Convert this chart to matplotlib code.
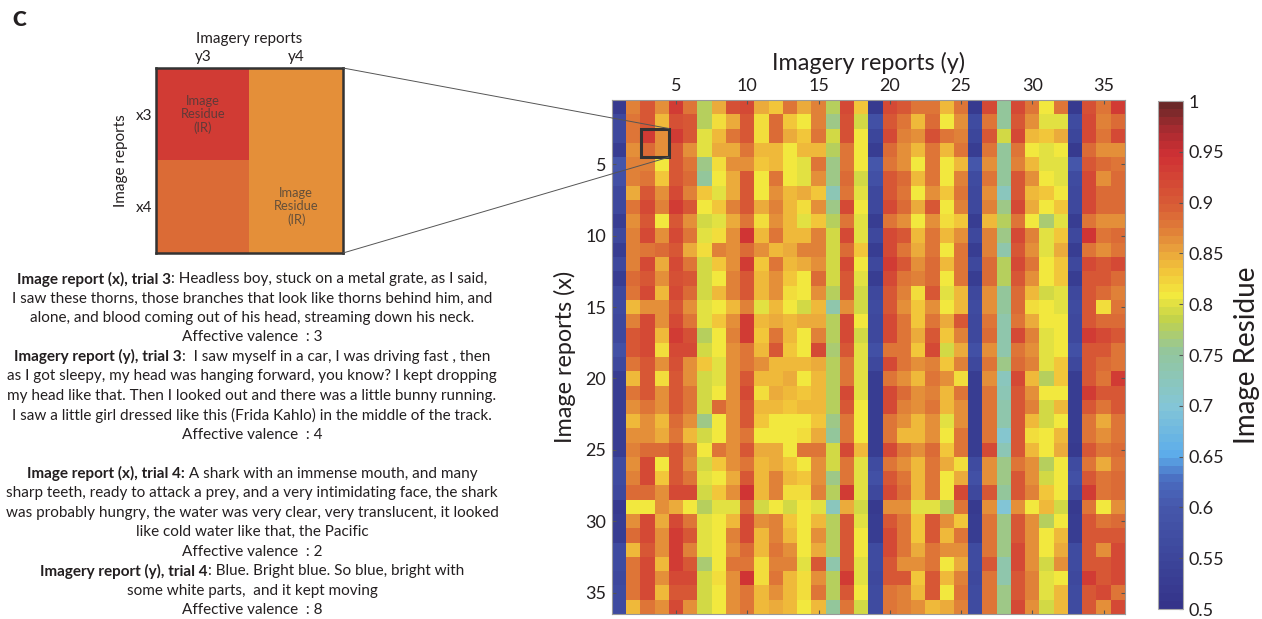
import numpy as np
import matplotlib
matplotlib.use("Agg")
import matplotlib.pyplot as plt
from matplotlib.colors import LinearSegmentedColormap, Normalize
from matplotlib.patches import Rectangle, ConnectionPatch

plt.rcParams['font.family'] = ['Lato', 'DejaVu Sans']

# Image residue between image reports (rows, x) and imagery reports (cols, y), in percent
residue_pct = [
    [52,87,90,86,93,88,78,85,91,92,85,83,88,85,87,78,92,83, 52,92,90,88,88,84,88,52,92,75,92,88,81,88,52,91,88,93],
    [56,88,90,84,91,90,78,82,85,90,82,89,83,81,87,76,91,79, 58,90,88,84,89,81,86,57,88,75,90,86,80,80,57,92,87,89],
    [56,88,93,86,93,90,80,84,88,90,82,89,85,83,88,79,91,81, 55,92,87,86,91,88,87,55,90,79,92,84,83,85,55,92,88,92],
    [53,86,89,86,90,86,80,85,85,88,84,84,81,84,84,78,88,81, 53,89,86,84,88,84,88,53,88,75,88,81,80,81,52,89,86,86],
    [60,87,87,81,90,88,76,82,86,86,83,84,81,80,88,76,88,81, 60,88,86,81,88,81,84,60,86,75,87,84,80,80,60,90,89,88],
    [58,87,88,83,90,89,75,81,85,90,81,88,81,80,86,76,89,79, 58,90,89,84,88,81,87,57,88,75,90,86,81,80,57,92,86,89],
    [56,85,90,86,92,87,83,80,85,90,81,86,84,85,83,73,88,80, 56,90,88,81,86,83,88,56,86,72,90,84,83,81,56,92,89,89],
    [56,88,92,87,93,90,81,83,87,90,85,87,84,82,86,76,92,81, 56,92,89,85,90,81,87,56,87,76,92,85,81,83,56,92,89,89],
    [53,86,90,81,90,86,79,80,85,88,82,86,84,80,83,78,88,80, 53,88,86,81,86,82,83,53,84,78,88,81,77,80,53,88,86,86],
    [56,87,92,86,92,88,80,82,86,94,84,88,84,84,87,79,92,80, 56,92,90,84,88,84,86,56,87,76,92,87,80,83,56,94,88,89],
    [53,87,88,89,90,85,82,87,86,89,86,84,85,87,87,79,89,83, 53,92,88,85,88,81,88,53,87,74,90,86,80,85,53,88,86,88],
    [56,87,92,85,92,88,79,83,86,93,83,88,84,85,86,79,92,81, 56,93,90,86,89,84,88,56,89,78,92,88,81,83,56,92,90,92],
    [53,89,90,86,91,90,79,81,87,90,84,86,83,81,89,79,90,80, 53,92,88,87,89,81,88,53,89,78,90,86,81,83,53,90,90,89],
    [56,88,92,84,92,89,79,84,87,90,84,86,82,81,86,78,90,79, 56,90,87,82,90,80,84,56,86,75,89,84,79,80,56,90,89,87],
    [57,84,86,86,90,86,80,81,84,87,80,84,81,79,84,74,86,79, 57,90,86,83,86,81,84,57,86,75,89,82,81,80,57,90,82,88],
    [56,87,92,86,92,88,80,83,86,93,84,85,84,85,85,78,92,81, 56,92,88,83,88,85,90,56,88,74,88,85,81,81,56,90,89,89],
    [56,90,92,84,93,91,78,81,87,93,83,88,84,81,87,78,92,79, 56,92,88,85,90,83,87,56,89,74,92,87,80,81,56,93,92,90],
    [58,90,92,82,92,92,79,81,86,88,84,90,83,81,92,77,90,80, 58,88,88,83,92,79,85,58,86,74,88,86,80,81,58,90,90,88],
    [56,88,90,86,91,86,83,80,86,88,86,84,84,84,85,78,88,80, 56,92,88,86,87,83,87,56,88,76,89,87,80,83,56,90,89,88],
    [53,84,90,82,90,86,79,80,86,90,84,84,85,81,84,78,88,80, 53,88,86,84,88,86,82,53,86,72,92,84,78,83,53,90,88,93],
    [53,88,90,86,90,88,79,81,86,92,82,85,84,83,84,78,92,80, 53,92,89,86,87,84,88,53,88,73,90,86,81,81,53,93,90,90],
    [53,86,88,86,90,88,79,89,86,90,84,84,83,84,84,78,90,81, 53,92,87,86,88,84,86,53,88,74,90,87,79,84,53,90,88,90],
    [53,84,86,84,89,86,76,81,86,90,83,81,81,81,83,76,88,81, 53,88,86,84,86,80,86,53,88,74,90,84,79,81,53,88,85,88],
    [53,86,86,85,88,84,79,81,86,88,81,81,81,82,85,75,88,81, 53,88,84,84,86,81,88,53,88,71,90,82,81,84,53,88,86,88],
    [53,87,89,89,90,87,81,88,86,90,85,85,81,88,88,79,92,84, 53,92,88,86,89,83,88,53,92,73,90,84,81,85,52,90,88,89],
    [57,86,92,81,90,86,79,83,86,88,84,85,83,81,86,79,88,80, 57,88,86,84,88,85,82,57,86,76,88,86,78,81,57,88,85,88],
    [57,87,92,83,90,88,80,81,85,90,84,87,84,83,86,76,88,80, 58,90,88,84,88,81,85,58,86,76,90,86,79,81,58,90,88,89],
    [56,89,89,86,92,92,79,83,86,94,84,87,82,82,87,78,93,80, 56,92,89,84,88,81,92,56,90,75,90,87,83,81,56,93,88,89],
    [52,81,81,86,85,81,78,80,80,89,79,81,79,81,80,72,85,79, 52,86,86,80,80,78,88,52,86,70,86,81,84,79,52,88,81,86],
    [53,86,92,85,92,88,80,81,84,92,86,87,83,81,84,78,90,80, 53,90,88,83,90,86,83,53,88,76,90,86,78,81,53,90,88,89],
    [53,89,92,86,93,90,80,81,87,92,84,87,84,81,86,78,90,81, 53,92,88,83,90,84,88,53,88,76,90,86,81,84,53,90,90,90],
    [57,84,90,86,93,87,80,81,86,89,84,88,86,81,85,78,90,81, 57,92,88,85,88,86,86,57,88,76,92,86,81,85,57,90,86,92],
    [57,88,92,84,93,90,77,81,88,88,82,87,87,80,90,74,90,80, 57,90,86,86,88,81,85,57,90,74,92,86,79,86,57,90,90,92],
    [56,88,92,86,92,92,79,82,86,94,82,88,84,82,86,78,93,80, 56,90,90,83,90,84,87,56,88,74,90,87,80,81,56,93,90,92],
    [57,88,92,84,90,90,79,81,86,88,84,86,84,82,88,78,90,81, 57,88,87,84,90,81,88,57,88,76,90,87,80,84,57,90,92,88],
    [57,84,88,86,92,86,79,81,86,88,84,85,84,81,84,75,88,79, 57,88,87,86,84,85,87,57,88,76,92,86,79,84,57,90,86,92],
]
tick_values = [5, 10, 15, 20, 25, 30, 35]
cbar_ticks = [0.5, 0.55, 0.6, 0.65, 0.7, 0.75, 0.8, 0.85, 0.9, 0.95, 1.0]
zoom_rows = [3, 4]   # trials shown in the close-up
zoom_cols = [3, 4]

report_lines = [
    ("Image report (x), trial 3", ": Headless boy, stuck on a metal grate, as I said,"),
    ("", "I saw these thorns, those branches that look like thorns behind him, and"),
    ("", "alone, and blood coming out of his head, streaming down his neck."),
    ("", "Affective valence  : 3"),
    ("Imagery report (y), trial 3", ":  I saw myself in a car, I was driving fast , then"),
    ("", "as I got sleepy, my head was hanging forward, you know? I kept dropping"),
    ("", "my head like that. Then I looked out and there was a little bunny running."),
    ("", "I saw a little girl dressed like this (Frida Kahlo) in the middle of the track."),
    ("", "Affective valence  : 4"),
    ("", ""),
    ("Image report (x), trial 4:", " A shark with an immense mouth, and many"),
    ("", "sharp teeth, ready to attack a prey, and a very intimidating face, the shark"),
    ("", "was probably hungry, the water was very clear, very translucent, it looked"),
    ("", "like cold water like that, the Pacific"),
    ("", "Affective valence  : 2"),
    ("Imagery report (y), trial 4", ": Blue. Bright blue. So blue, bright with"),
    ("", "some white parts,  and it kept moving"),
    ("", "Affective valence  : 8"),
]

residue = np.array(residue_pct) / 100.0
n = residue.shape[0]

# MATLAB-like 64 level map: navy -> blue -> sky -> green -> yellow -> orange -> red
cmap = LinearSegmentedColormap.from_list("residue", [
    (0.000, "#35348a"), (0.100, "#3d479c"), (0.200, "#4658ac"), (0.250, "#4a6cc0"),
    (0.300, "#5cacea"), (0.400, "#84c6d6"), (0.510, "#94c69a"), (0.570, "#c2d24a"),
    (0.620, "#f3e93e"), (0.670, "#f2c43a"), (0.710, "#e9a23c"), (0.750, "#e07e38"),
    (0.800, "#d85c36"), (0.900, "#cf3034"), (0.950, "#a82b30"), (1.000, "#6b2828"),
], N=64)
norm = Normalize(0.5, 1.0)

W, H = 1262, 619
fig = plt.figure(figsize=(W / 100, H / 100), dpi=100)
TXT = "#231f20"


def fx(px):
    return px / W


def fy(py):
    return 1 - py / H


# main matrix
ax = fig.add_axes([fx(612), fy(614), fx(1125) - fx(612), fy(100) - fy(614)])
im = ax.imshow(residue, cmap=cmap, norm=norm, aspect="auto", interpolation="nearest",
               extent=(0.5, n + 0.5, n + 0.5, 0.5))
ax.set_xticks(tick_values)
ax.set_yticks(tick_values)
ax.tick_params(top=True, bottom=True, left=True, right=True, labeltop=True,
               labelbottom=False, direction="in", length=3, width=0.8,
               color="#555555", labelsize=13, labelcolor=TXT, pad=4)
ax.xaxis.set_label_position("top")
ax.set_xlabel("Imagery reports (y)", fontsize=16.8, color=TXT, labelpad=6)
ax.set_ylabel("Image reports (x)", fontsize=16.8, color=TXT, labelpad=7)
for s in ax.spines.values():
    s.set_color("#999999")
    s.set_linewidth(0.8)

r0, c0 = zoom_rows[0], zoom_cols[0]
box = Rectangle((c0 - 0.5, r0 - 0.5), len(zoom_cols), len(zoom_rows),
                fill=False, ec="#333333", lw=2.2, zorder=5)
ax.add_patch(box)

# colorbar
cax = fig.add_axes([fx(1158), fy(609), fx(1183) - fx(1158), fy(101) - fy(609)])
cb = fig.colorbar(im, cax=cax, ticks=cbar_ticks)
cb.ax.set_yticklabels([f"{t:g}" for t in cbar_ticks])
cb.ax.tick_params(direction="in", length=3, width=0.8, color="#555555",
                  labelsize=13, labelcolor=TXT, pad=4)
cb.outline.set_edgecolor("#aaaaaa")
cb.outline.set_linewidth(0.8)
cb.set_label("Image Residue", fontsize=20, color=TXT, labelpad=7)

# close-up of the boxed cells
iax = fig.add_axes([fx(156), fy(253), fx(343) - fx(156), fy(68) - fy(253)])
sub = residue[np.ix_([r - 1 for r in zoom_rows], [c - 1 for c in zoom_cols])]
iax.imshow(sub, cmap=cmap, norm=norm, aspect="auto", interpolation="nearest",
           extent=(0.5, 2.5, 2.5, 0.5))
iax.set_xticks([1, 2])
iax.set_xticklabels([f"y{c}" for c in zoom_cols])
iax.set_yticks([1, 2])
iax.set_yticklabels([f"x{r}" for r in zoom_rows])
iax.tick_params(top=True, bottom=False, labeltop=True, labelbottom=False,
                length=0, labelsize=11, labelcolor=TXT, pad=3)
iax.xaxis.set_label_position("top")
iax.set_xlabel("Imagery reports", fontsize=11, color=TXT, labelpad=5)
iax.set_ylabel("Image reports", fontsize=11, color=TXT, labelpad=5)
for s in iax.spines.values():
    s.set_color("#333333")
    s.set_linewidth(1.8)
for (xx, yy) in [(1, 1), (2, 2)]:
    iax.text(xx, yy, "Image\nResidue\n(IR)", ha="center", va="center",
             fontsize=9.3, color="#3a3a3a", alpha=0.75, linespacing=1.1)

# guide lines from the close-up to the box
for ya, yb in [(0.5, r0 - 0.5), (2.5, r0 + len(zoom_rows) - 0.5)]:
    con = ConnectionPatch(xyA=(2.5, ya), coordsA=iax.transData,
                          xyB=(c0 + len(zoom_cols) - 0.5, yb), coordsB=ax.transData,
                          color="#555555", lw=0.7, zorder=6)
    fig.add_artist(con)

fig.text(fx(12), fy(20), "C", fontsize=15, fontweight="heavy", color=TXT, va="center")

# report transcripts, centred lines with a bold lead-in
renderer = fig.canvas.get_renderer()
for i, (lead, rest) in enumerate(report_lines):
    y = fy(279 + 19.47 * i)
    parts = [(lead, "bold"), (rest, "normal")]
    texts = []
    for s, w in parts:
        if s:
            t = fig.text(0, y, s, fontsize=11, fontweight=w, color=TXT,
                         ha="left", va="center")
            texts.append(t)
    if not texts:
        continue
    widths = [t.get_window_extent(renderer).width for t in texts]
    x = 252 - sum(widths) / 2
    for t, wd in zip(texts, widths):
        t.set_x(fx(x))
        x += wd

fig.savefig("out.png", dpi=100)
